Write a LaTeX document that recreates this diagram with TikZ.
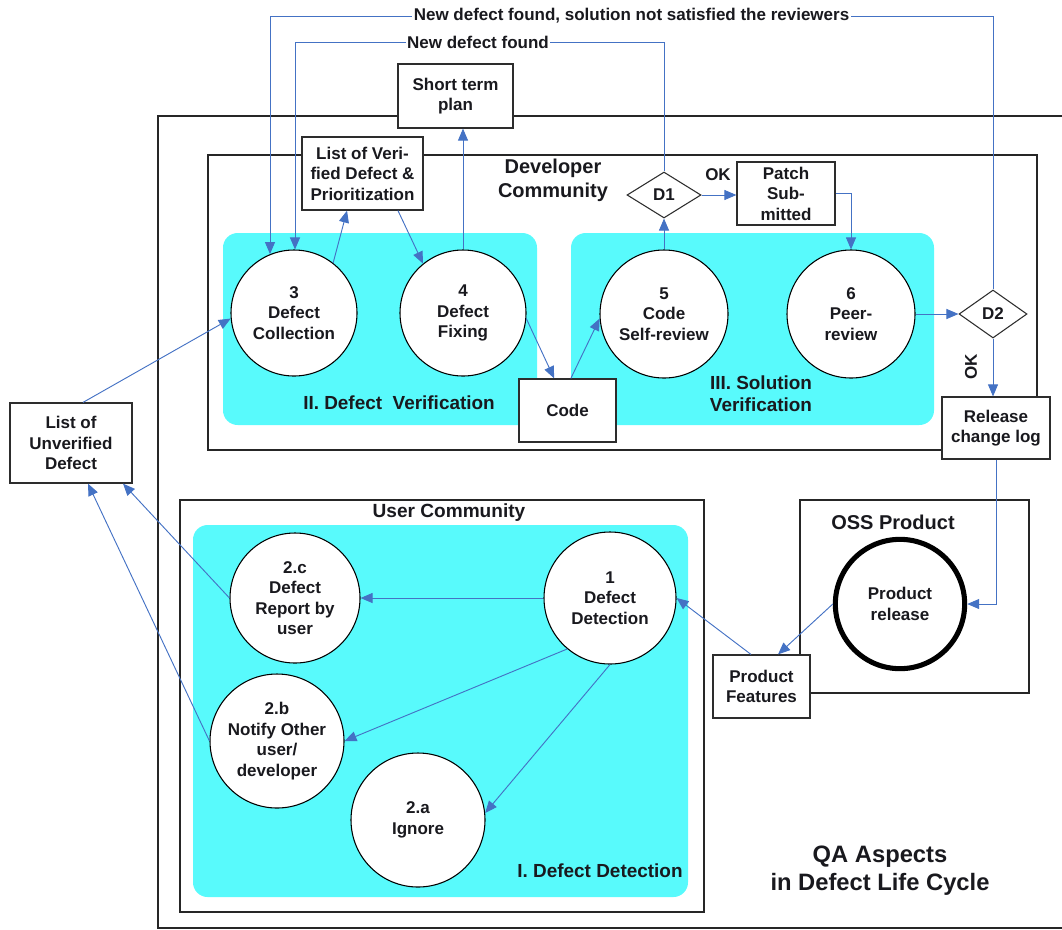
\documentclass[tikz,border=0pt]{standalone}
\usepackage{fontspec}
\setmainfont{Liberation Sans}
\usetikzlibrary{arrows.meta,shapes.geometric,calc}
\definecolor{cy}{RGB}{88,250,252}
\definecolor{ab}{RGB}{68,114,196}
\definecolor{bd}{RGB}{45,45,45}
\definecolor{tx}{RGB}{25,25,30}
\begin{document}
\begin{tikzpicture}[x=0.75pt,y=-0.75pt,
  every node/.style={font=\bfseries\fontsize{12.75}{15.4}\selectfont, text=tx, align=center, inner sep=0pt},
  container/.style={draw=black!85, line width=1.5pt},
  region/.style={fill=cy, rounded corners=11pt},
  proc/.style={circle, draw=black, line width=0.8pt, fill=white},
  boxn/.style={rectangle, draw=bd, line width=0.9pt, fill=white},
  dec/.style={diamond, draw=bd, line width=0.8pt, fill=white},
  flow/.style={draw=ab, line width=0.7pt, -{Triangle[length=9pt,width=7.5pt]}},
  title/.style={font=\bfseries\fontsize{15}{18}\selectfont},
  sub/.style={font=\bfseries\fontsize{14.2}{16.5}\selectfont}
]
\useasboundingbox (0,0) rectangle (1062,929);
\clip (0,0) rectangle (1062,929);

% containers
\draw[container] (158,116) rectangle (1080,928);
\draw[container] (208,155) rectangle (1037,450);
\draw[container] (180,500) rectangle (704,912);
\draw[container] (800,500) rectangle (1029,693);

% shaded regions
\fill[region] (223,233) rectangle (537,425);
\fill[region] (571,233) rectangle (934,425);
\fill[region] (193,525) rectangle (688,897);

% nodes
\node[proc, minimum size=94.5pt] (c3) at (294,313) {3\\Defect\\Collection};
\node[proc, minimum size=94.5pt] (c4) at (463,313) {4\\Defect\\Fixing};
\node[proc, minimum size=96pt] (c5) at (664,314) {5\\Code\\Self-review};
\node[proc, minimum size=96pt] (c6) at (851,314) {6\\Peer-\\review};
\node[proc, minimum size=99pt] (c1) at (610,598) {1\\Defect\\Detection};
\node[proc, minimum size=97.5pt] (c2c) at (295,598) {2.c\\Defect\\Report by\\user};
\node[proc, minimum size=100.5pt] (c2b) at (277,741) {2.b\\Notify Other\\user/\\developer};
\node[proc, minimum size=100.5pt] (c2a) at (418,820) {2.a\\Ignore};
\node[circle, draw=black, line width=3.8pt, fill=white, minimum size=97pt] (pr) at (900,604) {Product\\release};

\node[boxn, minimum width=86.25pt, minimum height=48pt] (stp) at (455.5,96) {Short term\\plan};
\node[boxn, minimum width=90.75pt, minimum height=54.75pt] (lvd) at (362.5,173.5) {List of Veri-\\fied Defect \&\\Prioritization};
\node[boxn, minimum width=73.5pt, minimum height=47.25pt] (patch) at (786,193.5) {Patch\\Sub-\\mitted};
\node[boxn, minimum width=72.75pt, minimum height=47.25pt] (code) at (567.5,410.5) {Code};
\node[boxn, minimum width=81pt, minimum height=46.5pt] (rcl) at (996,428) {Release\\change log};
\node[boxn, minimum width=91.5pt, minimum height=60pt] (lud) at (71,443) {List of\\Unverified\\Defect};
\node[boxn, minimum width=72.75pt, minimum height=47.25pt] (pf) at (761.5,686.5) {Product\\Features};

\node[dec, minimum width=55.5pt, minimum height=34.5pt] (d1) at (664,195) {D1};
\node[dec, minimum width=51pt, minimum height=36pt] (d2) at (993,314) {D2};

\coordinate (t1) at (270,16);
\coordinate (t2) at (295,42);

% connectors
\draw[flow] (d2.north) |- (t1) -- (t1 |- c3.112.4);
\draw[flow] (d1.north) |- (t2) -- (t2 |- c3.north);
\draw[flow] (c5.north) -- (c5.north |- d1.south);
\draw[flow] (d1.east) -- (d1.east -| patch.west);
\draw[flow] (patch.east) -| (c6.north);
\draw[flow] (c6.east) -- (d2.west);
\draw[flow] (d2.south) -- (d2.south |- rcl.north);
\draw[flow] (rcl.south) |- (pr.east);
\draw[flow] (pr.west) -- ([xshift=12.4pt]pf.north);
\draw[flow] ([xshift=-7.9pt]pf.north) -- (c1.east);
\draw[flow] (c1.west) -- (c1.west -| c2c.east);
\draw[flow] (c1.230) -- (c2b.east);
\draw[flow] (c1.south) -- (c2a.6);
\draw[flow] (c2c.west) -- ([xshift=39pt]lud.south);
\draw[flow] (c2b.west) -- ([xshift=12.75pt]lud.south);
\draw[flow] ([xshift=9pt]lud.north) -- (c3.185);
\draw[flow] (c3.52) -- ([xshift=-11.6pt]lvd.south);
\draw[flow] ([xshift=26.6pt]lvd.south) -- (c4.129);
\draw[flow] (c4.north) -- (c4.north |- stp.south);
\draw[flow] (c4.-5) -- ([xshift=-10pt]code.north);
\draw[flow] ([xshift=2.5pt]code.north) -- (c5.184);

% labels
\node[fill=white, inner xsep=1pt] (l1) at (631.5,16) {New defect found, solution not satisfied the reviewers};
\node[fill=white, inner xsep=1pt] (l2) at (478,42) {New defect found};
\node (ok1) at (718,175) {OK};
\node[rotate=90] (ok2) at (971,367) {OK};
\node[title] (dev) at (553,180) {Developer\\Community};
\node[font=\bfseries\fontsize{14.3}{17}\selectfont] (uc) at (449,513) {User Community};
\node[title] (oss) at (893,522) {OSS Product};
\node[sub] (dv) at (399,403) {II. Defect\ \ Verification};
\node[sub] (sv) at (761,394) {III. Solution\\Verification};
\node[sub] (dd) at (600,871) {I. Defect Detection};
\node[font=\bfseries\fontsize{17.8}{21}\selectfont] (qa) at (880,871) {QA Aspects\\in Defect Life Cycle};
\end{tikzpicture}
\end{document}
